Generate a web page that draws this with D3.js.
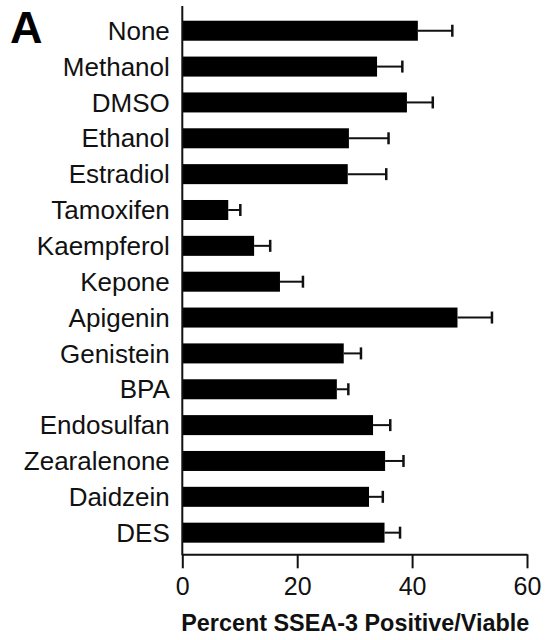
<!DOCTYPE html>
<html>
<head>
<meta charset="utf-8">
<script src="https://cdn.jsdelivr.net/npm/d3@7"></script>
<style>
  html, body { margin: 0; padding: 0; background: #fff; }
  svg { display: block; }
</style>
</head>
<body>
<svg id="chart" width="547" height="640"></svg>
<script>
// Treatments, mean percent SSEA-3 positive / viable, and error (SEM)
const categories = ["None", "Methanol", "DMSO", "Ethanol", "Estradiol", "Tamoxifen",
  "Kaempferol", "Kepone", "Apigenin", "Genistein", "BPA", "Endosulfan",
  "Zearalenone", "Daidzein", "DES"];
const means = [41.0, 33.9, 39.1, 29.0, 28.8, 8.0, 12.5, 17.0, 47.9, 28.1, 26.9, 33.2, 35.3, 32.5, 35.2];
const errors = [6.0, 4.4, 4.5, 6.9, 6.7, 2.1, 2.8, 4.0, 6.0, 3.0, 2.0, 3.0, 3.2, 2.4, 2.7];
const xTicks = [0, 20, 40, 60];
const xTitle = "Percent SSEA-3 Positive/Viable";
const panelLabel = "A";

const rows = categories.map((c, i) => ({ name: c, mean: means[i], err: errors[i] }));

const svg = d3.select("#chart");
const font = "'Liberation Sans', Arial, Helvetica, sans-serif";
const ink = "#111";

const x = d3.scaleLinear().domain([0, 60]).range([182.3, 527]);
const y = d3.scaleBand().domain(categories).range([12.8, 550.6])
  .paddingInner(0.442).paddingOuter(0.221);
const axisY = 554.3;

// bars
svg.append("g").selectAll("rect").data(rows).join("rect")
  .attr("x", x(0))
  .attr("y", d => y(d.name))
  .attr("width", d => x(d.mean) - x(0))
  .attr("height", y.bandwidth())
  .attr("fill", "#000");

// error bars (upper side only)
const eb = svg.append("g").attr("stroke", ink).attr("stroke-width", 2).attr("fill", "none");
eb.selectAll("line.stem").data(rows).join("line").attr("class", "stem")
  .attr("x1", d => x(d.mean)).attr("x2", d => x(d.mean + d.err))
  .attr("y1", d => y(d.name) + y.bandwidth() / 2)
  .attr("y2", d => y(d.name) + y.bandwidth() / 2);
eb.selectAll("line.cap").data(rows).join("line").attr("class", "cap")
  .attr("stroke-width", 2.5)
  .attr("x1", d => x(d.mean + d.err)).attr("x2", d => x(d.mean + d.err))
  .attr("y1", d => y(d.name) + y.bandwidth() / 2 - 6)
  .attr("y2", d => y(d.name) + y.bandwidth() / 2 + 6);

// x axis
const gx = svg.append("g").attr("transform", `translate(0,${axisY})`)
  .call(d3.axisBottom(x).tickValues(xTicks).tickSize(14).tickSizeOuter(0).tickPadding(9));
gx.select(".domain").attr("stroke", ink).attr("stroke-width", 2);
gx.selectAll(".tick line").attr("stroke", ink).attr("stroke-width", 2);
gx.selectAll(".tick text").attr("font-family", font).attr("font-size", 25).attr("fill", ink);

// y axis
const gy = svg.append("g").attr("transform", `translate(${x(0)},0)`)
  .call(d3.axisLeft(y).tickSize(0).tickPadding(12.5));
gy.select(".domain").attr("d", `M0,6V${axisY + 1}`).attr("stroke", ink).attr("stroke-width", 2);
gy.selectAll(".tick text").attr("font-family", font).attr("font-size", 26)
  .attr("fill", ink).attr("dy", "0.35em");

// axis title
svg.append("text")
  .attr("x", 355.2).attr("y", 631)
  .attr("text-anchor", "middle")
  .attr("font-family", font).attr("font-weight", "bold").attr("font-size", 23.4)
  .attr("fill", ink)
  .text(xTitle);

// panel letter
svg.append("text")
  .attr("x", 10).attr("y", 43.3)
  .attr("font-family", font).attr("font-weight", "bold").attr("font-size", 45)
  .attr("fill", "#000")
  .text(panelLabel);
</script>
</body>
</html>
